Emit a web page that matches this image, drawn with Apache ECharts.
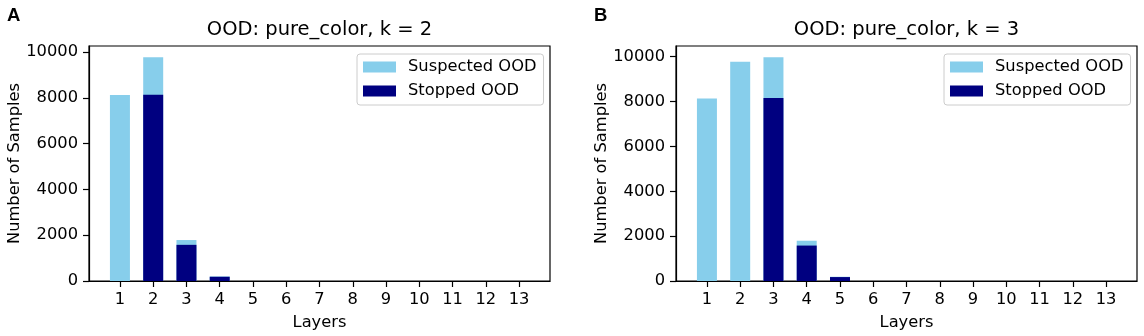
<!DOCTYPE html>
<html>
<head>
<meta charset="utf-8">
<script src="https://cdn.jsdelivr.net/npm/echarts@6/dist/echarts.min.js"></script>
<style>
  html, body { margin: 0; padding: 0; background: #fff; }
  #chart { width: 1144px; height: 336px; }
</style>
</head>
<body>
<div id="chart"></div>
<script>
// layers on the x axis
const layers = [1, 2, 3, 4, 5, 6, 7, 8, 9, 10, 11, 12, 13];
const yTicks = [0, 2000, 4000, 6000, 8000, 10000];

// panel A: k = 2
const suspectedA = [8130, 9780, 1790, 200, 0, 0, 0, 0, 0, 0, 0, 0, 0];
const stoppedA   = [0, 8140, 1580, 185, 0, 0, 0, 0, 0, 0, 0, 0, 0];
// panel B: k = 3
const suspectedB = [8135, 9782, 9980, 1796, 190, 0, 0, 0, 0, 0, 0, 0, 0];
const stoppedB   = [0, 0, 8164, 1580, 175, 0, 0, 0, 0, 0, 0, 0, 0];

const titles = ['OOD: pure_color, k = 2', 'OOD: pure_color, k = 3'];
const panelLetters = ['A', 'B'];

const font = '"DejaVu Sans", sans-serif';
const fs = 16.3;
const skyblue = '#87CEEB';
const navy = '#000080';

const chart = echarts.init(document.getElementById('chart'), null, { renderer: 'canvas' });

// plot boxes, in px
const boxes = [
  { left: 89, top: 46, width: 461, height: 235 },
  { left: 676, top: 46, width: 461, height: 235 }
];
const yMax = [Math.max(...suspectedA) * 1.05, Math.max(...suspectedB) * 1.05];

const pairs = (vals) => layers.map((l, i) => [l, vals[i]]);

const option = {
  animation: false,
  backgroundColor: '#fff',
  textStyle: { fontFamily: font },
  title: [],
  legend: [],
  grid: [],
  xAxis: [],
  yAxis: [],
  series: []
};

boxes.forEach((b, i) => {
  option.grid.push({
    left: b.left, top: b.top, width: b.width, height: b.height,
    show: true, borderColor: '#000', borderWidth: 1.2, backgroundColor: 'transparent'
  });
  option.title.push({
    text: titles[i],
    left: b.left + b.width / 2, top: 20, padding: 0, textAlign: 'center',
    textStyle: { fontFamily: font, fontSize: 19.5, fontWeight: 'normal', color: '#000' }
  });
  option.title.push({
    text: panelLetters[i],
    left: b.left - 82, top: 6, padding: 0,
    textStyle: { fontFamily: '"Liberation Sans", Arial, sans-serif', fontSize: 18.5, fontWeight: 'bold', color: '#000' }
  });
  option.legend.push({
    data: ['Suspected OOD', 'Stopped OOD'],
    orient: 'vertical',
    left: b.left + 268, top: 54,
    padding: [4, 7, 5, 6],
    itemWidth: 33, itemHeight: 11, itemGap: 6,
    icon: 'rect',
    selectedMode: false,
    backgroundColor: 'rgba(255,255,255,0.8)',
    borderColor: '#cccccc', borderWidth: 1, borderRadius: 3,
    textStyle: { fontFamily: font, fontSize: fs, color: '#000', lineHeight: 18, padding: [0, 0, 0, 7] }
  });
  option.xAxis.push({
    type: 'value', gridIndex: i, min: 0.07, max: 13.93,
    name: 'Layers', nameLocation: 'middle', nameGap: 34,
    nameTextStyle: { fontFamily: font, fontSize: fs, color: '#000' },
    axisLine: { show: true, lineStyle: { color: '#000', width: 1.2 } },
    axisTick: { show: true, length: 6, lineStyle: { color: '#000', width: 1.2 }, customValues: layers },
    axisLabel: { customValues: layers, margin: 11, fontFamily: font, fontSize: fs, color: '#000',
      formatter: (v) => String(v) },
    splitLine: { show: false }
  });
  option.yAxis.push({
    type: 'value', gridIndex: i, min: 0, max: yMax[i],
    name: 'Number of Samples', nameLocation: 'middle', nameGap: 65, nameRotate: 90,
    nameTextStyle: { fontFamily: font, fontSize: fs, color: '#000' },
    axisLine: { show: true, lineStyle: { color: '#000', width: 1.2 } },
    axisTick: { show: true, length: 6, lineStyle: { color: '#000', width: 1.2 }, customValues: yTicks },
    axisLabel: { customValues: yTicks, margin: 11, fontFamily: font, fontSize: fs, color: '#000',
      formatter: (v) => String(v) },
    splitLine: { show: false }
  });
});

const panels = [[suspectedA, stoppedA], [suspectedB, stoppedB]];
panels.forEach(([susp, stop], i) => {
  option.series.push({
    name: 'Suspected OOD', type: 'bar', xAxisIndex: i, yAxisIndex: i,
    barWidth: 20, barGap: '-100%', z: 2,
    itemStyle: { color: skyblue },
    data: pairs(susp)
  });
  option.series.push({
    name: 'Stopped OOD', type: 'bar', xAxisIndex: i, yAxisIndex: i,
    barWidth: 20, barGap: '-100%', z: 3,
    itemStyle: { color: navy },
    data: pairs(stop)
  });
});

chart.setOption(option);
</script>
</body>
</html>
